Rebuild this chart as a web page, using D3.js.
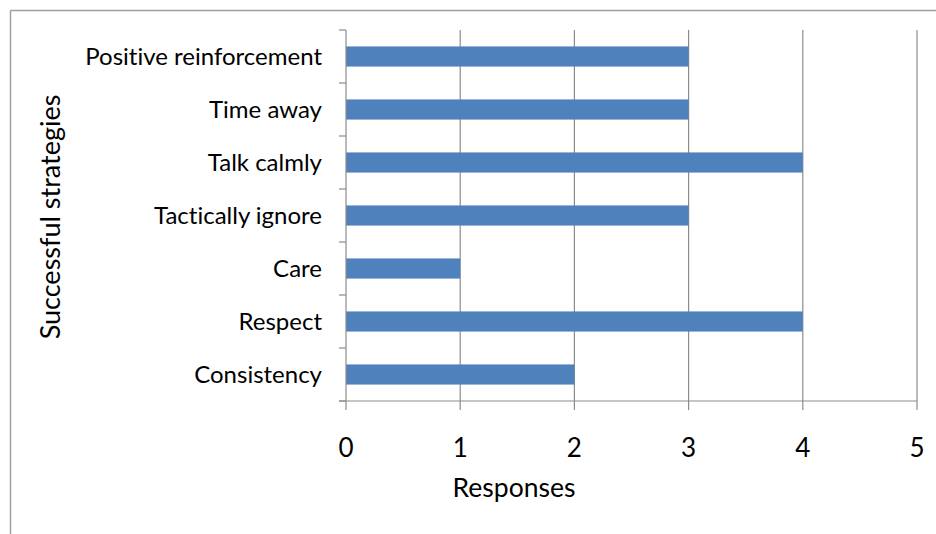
<!DOCTYPE html>
<html><head><meta charset="utf-8">
<script src="https://cdn.jsdelivr.net/npm/d3@7"></script>
<style>
body{margin:0;background:#fff;}
text{font-family:Lato,"Open Sans",sans-serif;fill:#000;font-variant-ligatures:none;font-feature-settings:"liga" 0;}
</style></head>
<body>
<svg id="chart" width="936" height="534"></svg>
<script>
const categories = ["Positive reinforcement","Time away","Talk calmly","Tactically ignore","Care","Respect","Consistency"];
const responses = [3,3,4,3,1,4,2];
const xTicks = [0,1,2,3,4,5];

const svg = d3.select("#chart");
const W = 936, H = 534;
const m = {left:346, top:30, right:19, bottom:133};

// outer frame (top and left edges visible)
svg.append("line").attr("x1",10.5).attr("y1",10.5).attr("x2",W).attr("y2",10.5).attr("stroke","#a0a0a0").attr("stroke-width",1.5);
svg.append("line").attr("x1",10.5).attr("y1",10.5).attr("x2",10.5).attr("y2",H).attr("stroke","#a0a0a0").attr("stroke-width",1.5);

const x = d3.scaleLinear().domain([0,5]).range([m.left, W-m.right]);
const y = d3.scaleBand().domain(categories).range([m.top, H-m.bottom]).paddingInner(0.62).paddingOuter(0.31);
const band = d3.scaleBand().domain(categories).range([m.top, H-m.bottom]);

// gridlines
svg.append("g").selectAll("line").data(xTicks.slice(1)).join("line")
  .attr("x1",d=>x(d)).attr("x2",d=>x(d)).attr("y1",m.top).attr("y2",H-m.bottom+9)
  .attr("stroke","#8c8c8c").attr("stroke-width",1.2);

// bars
svg.append("g").selectAll("rect").data(categories).join("rect")
  .attr("x",x(0)).attr("y",d=>y(d))
  .attr("width",(d,i)=>x(responses[i])-x(0)).attr("height",y.bandwidth())
  .attr("fill","#4f81bd");

// y axis line and ticks
const yb = H-m.bottom;
svg.append("line").attr("x1",x(0)).attr("x2",x(0)).attr("y1",m.top).attr("y2",yb+9).attr("stroke","#8c8c8c").attr("stroke-width",1.2);
const bounds = categories.map(c=>band(c)).concat([yb]);
svg.append("g").selectAll("line").data(bounds).join("line")
  .attr("x1",x(0)-7).attr("x2",x(0)).attr("y1",d=>d).attr("y2",d=>d)
  .attr("stroke","#8c8c8c").attr("stroke-width",1.2);
// x axis line
svg.append("line").attr("x1",x(0)-7).attr("x2",x(5)).attr("y1",yb).attr("y2",yb).attr("stroke","#8c8c8c").attr("stroke-width",1.2);

// category labels
svg.append("g").selectAll("text").data(categories).join("text")
  .attr("x",322).attr("y",d=>band(d)+band.bandwidth()/2)
  .attr("dy","0.34em").attr("text-anchor","end").attr("font-size",24).text(d=>d);

// x tick labels
svg.append("g").selectAll("text").data(xTicks).join("text")
  .attr("x",d=>x(d)).attr("y",457).attr("text-anchor","middle").attr("font-size",26).text(d=>d);

// axis titles
svg.append("text").attr("x",514).attr("y",497).attr("text-anchor","middle").attr("font-size",26.5).text("Responses");
svg.append("text").attr("transform","translate(60,217) rotate(-90)").attr("text-anchor","middle").attr("font-size",27).text("Successful strategies");
</script>
</body></html>
